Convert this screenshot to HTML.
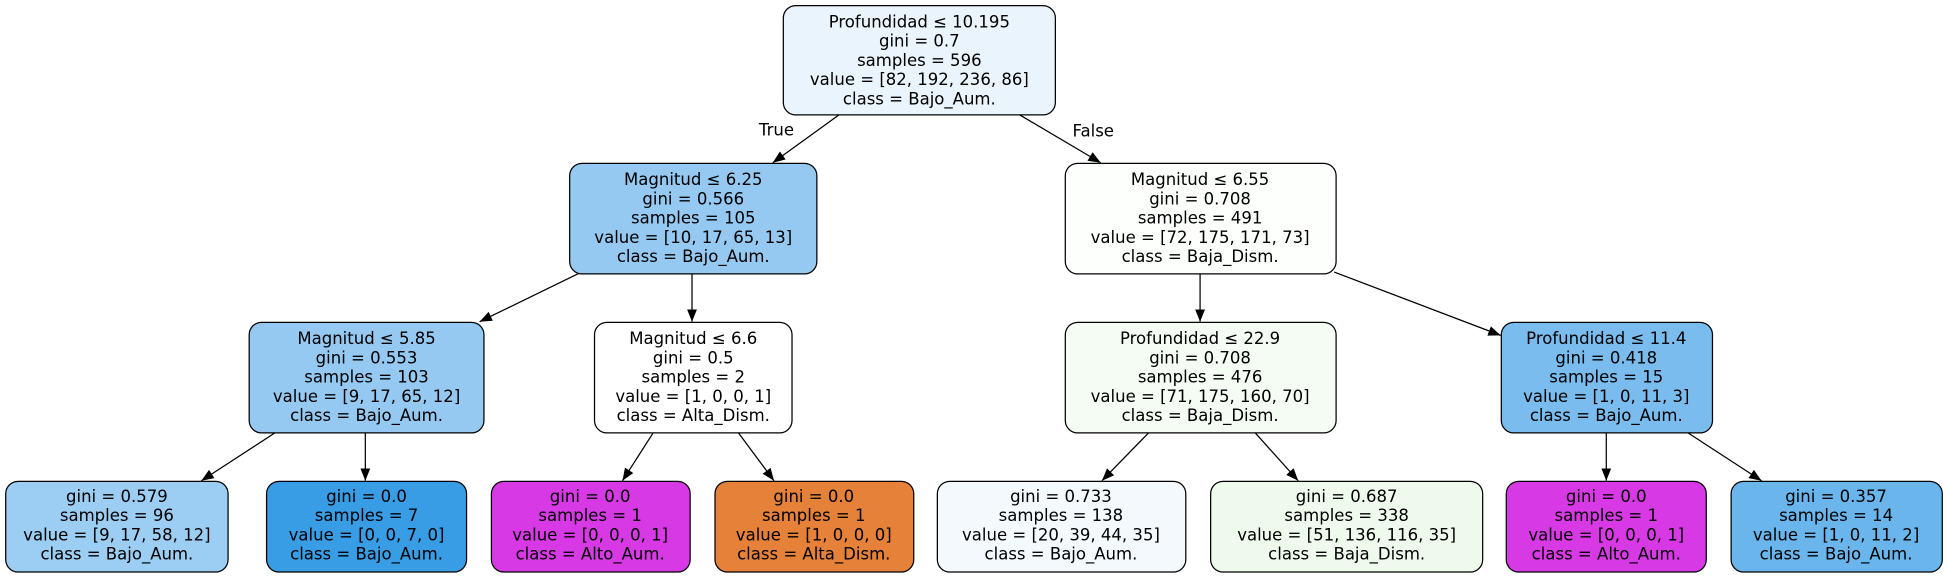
<!DOCTYPE html>
<html><head><meta charset="utf-8"><style>
html,body{margin:0;padding:0;background:#fff;}
svg{display:block;}
text{font-family:"DejaVu Sans","Liberation Sans",sans-serif;font-size:13.3px;fill:#000;text-anchor:middle;}
rect{stroke:#000;stroke-width:1;}
line{stroke:#000;stroke-width:1;}
</style></head><body>
<svg width="1948" height="577" viewBox="0 0 1568 464.5" xmlns="http://www.w3.org/2000/svg">
<defs><marker id="a" markerWidth="10" markerHeight="8" refX="10" refY="4" orient="auto" markerUnits="userSpaceOnUse"><path d="M0,0 L10,4 L0,8 z" fill="#000"/></marker></defs>
<g marker-end="url(#a)">
<line x1="676" y1="92" x2="622" y2="131" marker-end="url(#a)"/>
<line x1="820" y1="92" x2="886" y2="131" marker-end="url(#a)"/>
<line x1="466" y1="220" x2="386" y2="259" marker-end="url(#a)"/>
<line x1="557" y1="220" x2="557" y2="259" marker-end="url(#a)"/>
<line x1="966" y1="220" x2="966" y2="259" marker-end="url(#a)"/>
<line x1="1074" y1="219" x2="1208" y2="270" marker-end="url(#a)"/>
<line x1="222" y1="348" x2="162" y2="387" marker-end="url(#a)"/>
<line x1="294" y1="348" x2="294" y2="387" marker-end="url(#a)"/>
<line x1="526" y1="348" x2="501" y2="387" marker-end="url(#a)"/>
<line x1="594" y1="348" x2="623" y2="387" marker-end="url(#a)"/>
<line x1="925" y1="348" x2="887" y2="387" marker-end="url(#a)"/>
<line x1="1010" y1="348" x2="1045" y2="387" marker-end="url(#a)"/>
<line x1="1293" y1="348" x2="1293" y2="387" marker-end="url(#a)"/>
<line x1="1358" y1="348" x2="1418" y2="387" marker-end="url(#a)"/>
</g>
<text x="625" y="109">True</text>
<text x="880" y="110">False</text>

<rect x="630.5" y="4.5" width="219" height="88" rx="10" fill="#eaf4fc"/>
<text x="740" y="22">Profundidad ≤ 10.195</text><text x="740" y="37.5">gini = 0.7</text><text x="740" y="53">samples = 596</text><text x="740" y="68.5">value = [82, 192, 236, 86]</text><text x="740" y="84">class = Bajo_Aum.</text>

<rect x="458.5" y="131.5" width="199" height="89" rx="10" fill="#95c9f1"/>
<text x="558" y="149">Magnitud ≤ 6.25</text><text x="558" y="164.5">gini = 0.566</text><text x="558" y="180">samples = 105</text><text x="558" y="195.5">value = [10, 17, 65, 13]</text><text x="558" y="211">class = Bajo_Aum.</text>

<rect x="857.5" y="131.5" width="218" height="89" rx="10" fill="#fdfffd"/>
<text x="966" y="149">Magnitud ≤ 6.55</text><text x="966" y="164.5">gini = 0.708</text><text x="966" y="180">samples = 491</text><text x="966" y="195.5">value = [72, 175, 171, 73]</text><text x="966" y="211">class = Baja_Dism.</text>

<rect x="200.5" y="259.5" width="189" height="89" rx="10" fill="#95c9f1"/>
<text x="295" y="277">Magnitud ≤ 5.85</text><text x="295" y="292.5">gini = 0.553</text><text x="295" y="308">samples = 103</text><text x="295" y="323.5">value = [9, 17, 65, 12]</text><text x="295" y="339">class = Bajo_Aum.</text>

<rect x="478.5" y="259.5" width="159" height="89" rx="10" fill="#ffffff"/>
<text x="558" y="277">Magnitud ≤ 6.6</text><text x="558" y="292.5">gini = 0.5</text><text x="558" y="308">samples = 2</text><text x="558" y="323.5">value = [1, 0, 0, 1]</text><text x="558" y="339">class = Alta_Dism.</text>

<rect x="857.5" y="259.5" width="218" height="89" rx="10" fill="#f5fcf4"/>
<text x="966" y="277">Profundidad ≤ 22.9</text><text x="966" y="292.5">gini = 0.708</text><text x="966" y="308">samples = 476</text><text x="966" y="323.5">value = [71, 175, 160, 70]</text><text x="966" y="339">class = Baja_Dism.</text>

<rect x="1208.5" y="259.5" width="170" height="89" rx="10" fill="#79bced"/>
<text x="1293" y="277">Profundidad ≤ 11.4</text><text x="1293" y="292.5">gini = 0.418</text><text x="1293" y="308">samples = 15</text><text x="1293" y="323.5">value = [1, 0, 11, 3]</text><text x="1293" y="339">class = Bajo_Aum.</text>

<rect x="4.5" y="387.5" width="179" height="73" rx="10" fill="#9ccdf2"/>
<text x="94" y="404">gini = 0.579</text><text x="94" y="419.5">samples = 96</text><text x="94" y="435">value = [9, 17, 58, 12]</text><text x="94" y="450.5">class = Bajo_Aum.</text>

<rect x="214.5" y="387.5" width="161" height="73" rx="10" fill="#399de5"/>
<text x="295" y="404">gini = 0.0</text><text x="295" y="419.5">samples = 7</text><text x="295" y="435">value = [0, 0, 7, 0]</text><text x="295" y="450.5">class = Bajo_Aum.</text>

<rect x="395.5" y="387.5" width="160" height="73" rx="10" fill="#d739e5"/>
<text x="475" y="404">gini = 0.0</text><text x="475" y="419.5">samples = 1</text><text x="475" y="435">value = [0, 0, 0, 1]</text><text x="475" y="450.5">class = Alto_Aum.</text>

<rect x="575.5" y="387.5" width="160" height="73" rx="10" fill="#e58139"/>
<text x="655" y="404">gini = 0.0</text><text x="655" y="419.5">samples = 1</text><text x="655" y="435">value = [1, 0, 0, 0]</text><text x="655" y="450.5">class = Alta_Dism.</text>

<rect x="754.5" y="387.5" width="200" height="73" rx="10" fill="#f4f9fe"/>
<text x="854" y="404">gini = 0.733</text><text x="854" y="419.5">samples = 138</text><text x="854" y="435">value = [20, 39, 44, 35]</text><text x="854" y="450.5">class = Bajo_Aum.</text>

<rect x="974.5" y="387.5" width="219" height="73" rx="10" fill="#eefbec"/>
<text x="1084" y="404">gini = 0.687</text><text x="1084" y="419.5">samples = 338</text><text x="1084" y="435">value = [51, 136, 116, 35]</text><text x="1084" y="450.5">class = Baja_Dism.</text>

<rect x="1212.5" y="387.5" width="161" height="73" rx="10" fill="#d739e5"/>
<text x="1293" y="404">gini = 0.0</text><text x="1293" y="419.5">samples = 1</text><text x="1293" y="435">value = [0, 0, 0, 1]</text><text x="1293" y="450.5">class = Alto_Aum.</text>

<rect x="1393.5" y="387.5" width="170" height="73" rx="10" fill="#6ab6ec"/>
<text x="1478" y="404">gini = 0.357</text><text x="1478" y="419.5">samples = 14</text><text x="1478" y="435">value = [1, 0, 11, 2]</text><text x="1478" y="450.5">class = Bajo_Aum.</text>
</svg>
</body></html>
